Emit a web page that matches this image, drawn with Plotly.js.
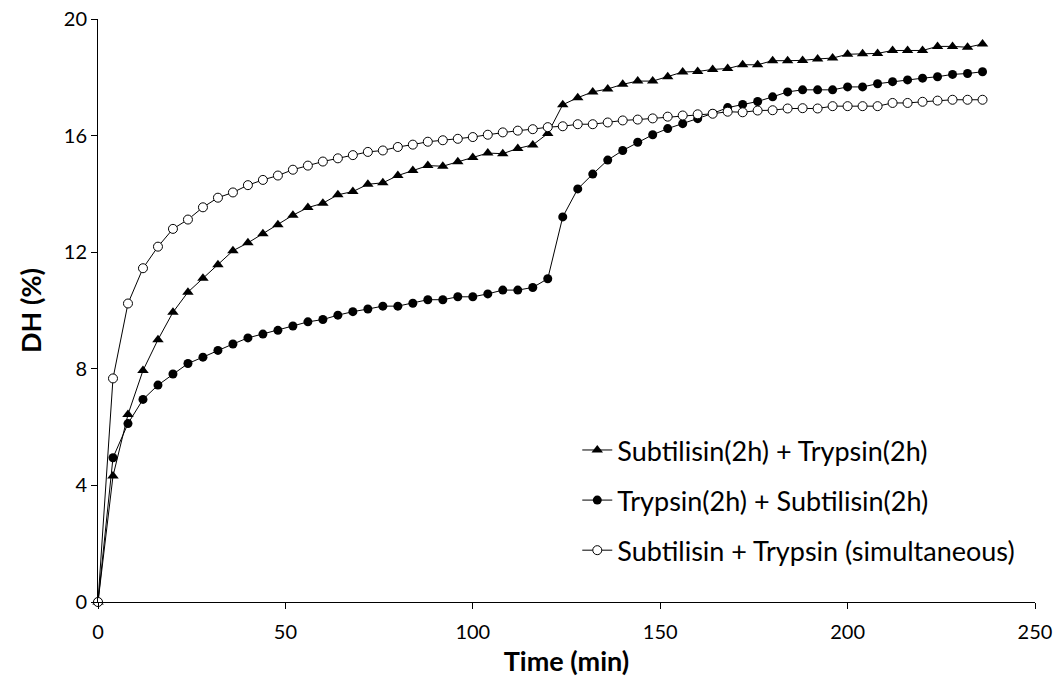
<!DOCTYPE html>
<html>
<head>
<meta charset="utf-8">
<script src="https://cdn.plot.ly/plotly-3.0.1.min.js"></script>
<style>
  html, body { margin: 0; padding: 0; background: #fff; }
  #chart { width: 1055px; height: 689px; }
</style>
</head>
<body>
<div id="chart"></div>
<script>
// Time points (min)
const timeMin = [0,4,8,12,16,20,24,28,32,36,40,44,48,52,56,60,64,68,72,76,80,84,88,92,96,100,104,108,112,116,120,124,128,132,136,140,144,148,152,156,160,164,168,172,176,180,184,188,192,196,200,204,208,212,216,220,224,228,232,236];

// DH (%) series
const subThenTry = [0,4.32,6.43,7.94,9.00,9.94,10.63,11.11,11.57,12.05,12.32,12.63,12.94,13.27,13.53,13.68,13.97,14.08,14.33,14.38,14.63,14.80,14.97,14.95,15.10,15.25,15.40,15.38,15.56,15.68,16.07,17.06,17.30,17.50,17.60,17.76,17.87,17.87,18.02,18.18,18.20,18.27,18.30,18.43,18.43,18.57,18.57,18.58,18.63,18.66,18.79,18.81,18.82,18.92,18.92,18.92,19.06,19.06,19.03,19.14];
const tryThenSub = [0,4.95,6.12,6.95,7.44,7.82,8.18,8.40,8.63,8.85,9.06,9.19,9.32,9.47,9.61,9.69,9.84,9.96,10.05,10.15,10.15,10.25,10.37,10.37,10.47,10.47,10.57,10.70,10.70,10.79,11.09,13.21,14.17,14.68,15.16,15.49,15.77,16.03,16.24,16.41,16.58,16.76,16.96,17.07,17.17,17.33,17.50,17.57,17.57,17.57,17.67,17.67,17.78,17.85,17.91,17.97,18.02,18.10,18.13,18.19];
const simultaneous = [0,7.67,10.24,11.45,12.19,12.80,13.12,13.54,13.87,14.05,14.30,14.48,14.63,14.83,14.97,15.11,15.22,15.33,15.44,15.49,15.61,15.69,15.79,15.84,15.89,15.95,16.03,16.11,16.17,16.22,16.29,16.32,16.39,16.39,16.45,16.52,16.55,16.59,16.65,16.69,16.73,16.75,16.82,16.80,16.86,16.87,16.93,16.94,16.93,17.01,17.01,17.01,17.01,17.12,17.12,17.16,17.20,17.23,17.23,17.23];

const seriesNames = ["Subtilisin(2h) + Trypsin(2h)", "Trypsin(2h) + Subtilisin(2h)", "Subtilisin + Trypsin (simultaneous)"];
const xTicks = [0,50,100,150,200,250];
const yTicks = [0,4,8,12,16,20];

const FONT = "Lato, 'Open Sans', sans-serif";

const traces = [
  {
    x: timeMin, y: subThenTry, name: seriesNames[0], legendgroup: "a",
    mode: "lines+markers", cliponaxis: false,
    line: {color: "#000", width: 1},
    marker: {symbol: "triangle-up", size: 10, color: "#000", line: {width: 0}}
  },
  {
    x: timeMin, y: tryThenSub, name: seriesNames[1], legendgroup: "b",
    mode: "lines+markers", cliponaxis: false,
    line: {color: "#000", width: 1},
    marker: {symbol: "circle", size: 9, color: "#000", line: {width: 0}}
  },
  {
    x: timeMin, y: simultaneous, name: seriesNames[2], legendgroup: "c",
    mode: "lines+markers", cliponaxis: false,
    line: {color: "#000", width: 1},
    marker: {symbol: "circle", size: 9, color: "#fff", line: {width: 1, color: "#000"}}
  }
];

const layout = {
  width: 1055, height: 689,
  margin: {l: 98, r: 20, t: 19, b: 87, pad: 0},
  paper_bgcolor: "#fff", plot_bgcolor: "#fff",
  font: {family: FONT, color: "#000", size: 20},
  showlegend: true,
  legend: {
    x: 0.5115, y: 0.302, xanchor: "left", yanchor: "top",
    bgcolor: "rgba(0,0,0,0)", borderwidth: 0,
    font: {family: FONT, size: 27, color: "#000"},
    tracegroupgap: 12, traceorder: "grouped"
  },
  xaxis: {
    range: [0, 250], tickvals: xTicks, ticktext: xTicks.map(String),
    showgrid: false, zeroline: false,
    showline: true, linecolor: "#000", linewidth: 1,
    ticks: "outside", ticklen: 6, tickcolor: "#000", tickwidth: 1,
    ticklabelstandoff: 6,
    tickfont: {family: FONT, size: 20, color: "#000"},
    title: {text: "Time (min)", font: {family: FONT, size: 27, color: "#000", weight: "bold"}, standoff: 10},
    fixedrange: true
  },
  yaxis: {
    range: [0, 20], tickvals: yTicks, ticktext: yTicks.map(String),
    showgrid: false, zeroline: false,
    showline: true, linecolor: "#000", linewidth: 1,
    ticks: "outside", ticklen: 6, tickcolor: "#000", tickwidth: 1,
    tickfont: {family: FONT, size: 20, color: "#000"},
    title: {text: "DH (%)", font: {family: FONT, size: 27, color: "#000", weight: "bold"}, standoff: 14},
    fixedrange: true
  }
};

Plotly.newPlot("chart", traces, layout, {displayModeBar: false, staticPlot: true});
</script>
</body>
</html>
